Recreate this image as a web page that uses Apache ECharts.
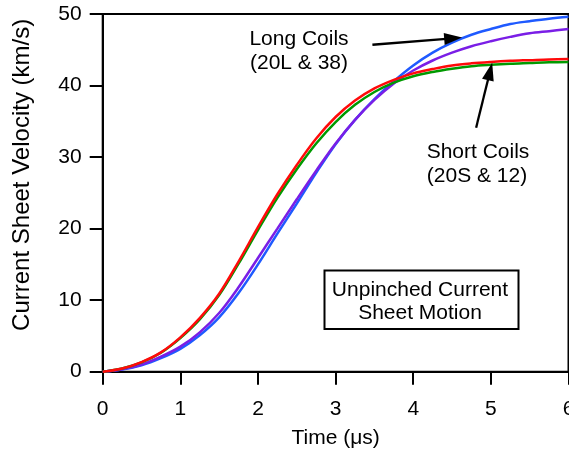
<!DOCTYPE html>
<html><head><meta charset="utf-8">
<script src="https://cdn.jsdelivr.net/npm/echarts@6/dist/echarts.min.js"></script>
<style>html,body{margin:0;padding:0;background:#fff}#c{width:569px;height:451px}</style>
</head><body><div id="c"></div>
<script>
// Time (µs)
const time = [0,0.25,0.5,0.75,1,1.25,1.5,1.75,2,2.25,2.5,2.75,3,3.25,3.5,3.75,4,4.25,4.5,4.75,5,5.25,5.5,5.75,6];
// Short coils
const shortRed   = [0,0.45,1.35,2.7,4.8,7.5,10.9,15.4,20.2,24.8,28.9,32.6,35.6,37.9,39.6,40.8,41.7,42.3,42.8,43.1,43.3,43.45,43.55,43.65,43.7];
const shortGreen = [0,0.45,1.3,2.65,4.7,7.3,10.7,15.1,19.8,24.3,28.3,31.9,34.9,37.3,39.1,40.4,41.3,41.9,42.35,42.7,42.9,43.05,43.15,43.25,43.3];
// Long coils
const longBlue   = [0,0.3,0.9,1.9,3.2,5.1,7.6,11.0,15.0,19.3,23.5,27.8,31.8,35.2,38.1,40.6,42.8,44.6,46.0,47.1,47.9,48.6,49.0,49.35,49.6];
const longPurple = [0,0.35,1.0,2.1,3.5,5.5,8.2,11.8,15.9,20.0,24.1,28.1,31.9,35.2,38.0,40.3,42.1,43.5,44.6,45.5,46.2,46.8,47.3,47.6,47.9];
// axis ticks
const xTicks = [0,1,2,3,4,5,6];
const yTicks = [0,10,20,30,40,50];
// annotation arrows: [startX, startY, tipX, tipY] in data units
const longArrow  = [3.474, 45.7, 4.63, 46.7];
const shortArrow = [4.81, 34.1, 5.017, 43.2];

const FONT = 'Liberation Sans';
const pair = (ys) => time.map((t, i) => [t, ys[i]]);
const mk = (name, ys, color) => ({
  name, type: 'line', data: pair(ys), smooth: 0.35, showSymbol: false, symbol: 'none',
  lineStyle: { color, width: 2.5 }, itemStyle: { color }, animation: false, z: 3
});

const chart = echarts.init(document.getElementById('c'), null, { renderer: 'canvas' });
chart.setOption({
  animation: false,
  backgroundColor: '#fff',
  grid: { left: 102.7, right: 0.5, top: 14, bottom: 79.3, containLabel: false, outerBoundsMode: 'none',
          show: true, borderColor: '#000', borderWidth: 2 },
  xAxis: {
    type: 'value', min: xTicks[0], max: xTicks[xTicks.length - 1], interval: 1,
    name: 'Time (\u03BCs)', nameLocation: 'middle', nameGap: 56,
    nameTextStyle: { fontFamily: FONT, fontSize: 21, color: '#000' },
    axisLine: { show: true, onZero: false, lineStyle: { color: '#000', width: 2 } },
    axisTick: { show: true, inside: false, length: 13, lineStyle: { color: '#000', width: 2 } },
    axisLabel: { margin: 27, fontFamily: FONT, fontSize: 21, color: '#000', hideOverlap: false },
    splitLine: { show: false }
  },
  yAxis: {
    type: 'value', min: yTicks[0], max: yTicks[yTicks.length - 1], interval: 10,
    name: 'Current Sheet Velocity (km/s)', nameLocation: 'middle', nameGap: 68, nameRotate: 90,
    nameTextStyle: { fontFamily: FONT, fontSize: 24, color: '#000', padding: [0, 0, 0, 36] },
    axisLine: { show: true, onZero: false, lineStyle: { color: '#000', width: 2 } },
    axisTick: { show: true, inside: false, length: 13, lineStyle: { color: '#000', width: 2 } },
    axisLabel: { margin: 21, fontFamily: FONT, fontSize: 21, color: '#000' },
    splitLine: { show: false }
  },
  series: [
    mk('20L', longBlue, '#1f5aff'),
    mk('38', longPurple, '#7a1ee6'),
    mk('12', shortGreen, '#009a00'),
    mk('20S', shortRed, '#ff0a0a')
  ]
});

function arrowGraphics(a) {
  const s = chart.convertToPixel({ gridIndex: 0 }, [a[0], a[1]]);
  const t = chart.convertToPixel({ gridIndex: 0 }, [a[2], a[3]]);
  const dx = t[0] - s[0], dy = t[1] - s[1];
  const len = Math.hypot(dx, dy);
  const ux = dx / len, uy = dy / len, nx = -uy, ny = ux;
  const L = 18, W = 12;
  const bx = t[0] - ux * L, by = t[1] - uy * L;
  return [
    { type: 'line', shape: { x1: s[0], y1: s[1], x2: bx + ux * 2, y2: by + uy * 2 }, style: { stroke: '#000', lineWidth: 2.3 }, z: 10 },
    { type: 'polygon', shape: { points: [[t[0], t[1]], [bx + nx * W / 2, by + ny * W / 2], [bx - nx * W / 2, by - ny * W / 2]] }, style: { fill: '#000' }, z: 10 }
  ];
}

const txt = (text, x, y) => ({
  type: 'text', x, y, z: 10,
  style: { text, fontFamily: FONT, fontSize: 21, fill: '#000', align: 'center', verticalAlign: 'middle' }
});

chart.setOption({
  graphic: [
    ...arrowGraphics(longArrow),
    ...arrowGraphics(shortArrow),
    txt('Long Coils', 299, 39),
    txt('(20L & 38)', 299, 63),
    txt('Short Coils', 478, 152),
    txt('(20S & 12)', 477, 176),
    { type: 'rect', shape: { x: 324.5, y: 270.5, width: 194, height: 58.5 }, style: { fill: '#fff', stroke: '#000', lineWidth: 2 }, z: 9 },
    txt('Unpinched Current', 420, 290),
    txt('Sheet Motion', 420, 313)
  ]
});
</script>
</body></html>
